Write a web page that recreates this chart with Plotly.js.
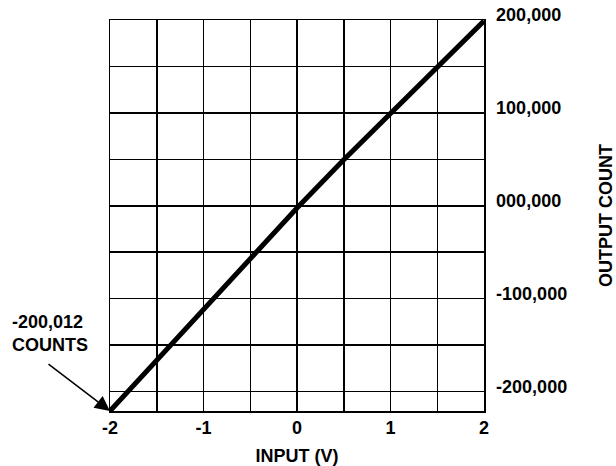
<!DOCTYPE html>
<html>
<head>
<meta charset="utf-8">
<script src="https://cdn.plot.ly/plotly-3.0.1.min.js"></script>
<style>
html,body{margin:0;padding:0;background:#fff;}
#chart{width:616px;height:466px;}
</style>
</head>
<body>
<div id="chart"></div>
<script>
// Data
const inputV = [-2, -1.5, -1, -0.5, 0, 0.5, 1, 1.5, 2];
const outputCount = [-221000, -166000, -111500, -57000, -2500, 49500, 99500, 150000, 199000];

const xTickVals = [-2, -1.5, -1, -0.5, 0, 0.5, 1, 1.5, 2];
const xTickText = ['-2', '', '-1', '', '0', '', '1', '', '2'];
const yTickVals = [-200000, -150000, -100000, -50000, 0, 50000, 100000, 150000, 200000];
const yTickText = ['-200,000', '', '-100,000', '', '000,000', '', '100,000', '', '200,000'];

const annotText = '-200,012<br>COUNTS';
const xTitle = 'INPUT (V)';
const yTitle = 'OUTPUT COUNT';

const FONT = 'Arial, "Liberation Sans", Helvetica, sans-serif';
const FS = 18;

const trace = {
  x: inputV,
  y: outputCount,
  type: 'scatter',
  mode: 'lines',
  line: {color: '#000', width: 5},
  hoverinfo: 'skip',
  showlegend: false
};

const layout = {
  width: 616,
  height: 466,
  margin: {l: 110, r: 132, t: 20, b: 55, pad: 0},
  paper_bgcolor: '#fff',
  plot_bgcolor: '#fff',
  font: {family: FONT, size: FS, color: '#000', weight: 'bold'},
  showlegend: false,
  xaxis: {
    range: [-2, 2],
    tickvals: xTickVals,
    ticktext: xTickText,
    ticks: '',
    ticklabelstandoff: 0,
    showgrid: true,
    gridcolor: '#000',
    gridwidth: 1.5,
    showline: true,
    linecolor: '#000',
    linewidth: 1.5,
    mirror: true,
    zeroline: false,
    automargin: false,
    tickfont: {family: FONT, size: FS, color: '#000', weight: 'bold'},
    title: {text: xTitle, font: {family: FONT, size: FS, color: '#000', weight: 'bold'}, standoff: 17}
  },
  yaxis: {
    side: 'right',
    range: [-221000, 200000],
    tickvals: yTickVals,
    ticktext: yTickText,
    ticks: '',
    ticklabelstandoff: 7,
    ticklabelshift: -5,
    showgrid: true,
    gridcolor: '#000',
    gridwidth: 1.5,
    showline: true,
    linecolor: '#000',
    linewidth: 1.5,
    mirror: true,
    zeroline: false,
    automargin: false,
    tickfont: {family: FONT, size: FS, color: '#000', weight: 'bold'},
    title: {text: yTitle, font: {family: FONT, size: FS, color: '#000', weight: 'bold'}, standoff: 36}
  },
  annotations: [
    {
      xref: 'paper', yref: 'paper',
      x: -0.267, y: 0.198,
      xanchor: 'left', yanchor: 'middle',
      align: 'left',
      text: annotText,
      showarrow: false,
      font: {family: FONT, size: FS, color: '#000', weight: 'bold'}
    },
    {
      x: inputV[0], y: outputCount[0],
      xref: 'x', yref: 'y',
      text: '',
      showarrow: true,
      arrowhead: 2,
      arrowsize: 2,
      arrowwidth: 1.5,
      arrowcolor: '#000',
      ax: -63, ay: -48,
      standoff: 0
    }
  ]
};

Plotly.newPlot('chart', [trace], layout, {displayModeBar: false, staticPlot: true});
</script>
</body>
</html>
